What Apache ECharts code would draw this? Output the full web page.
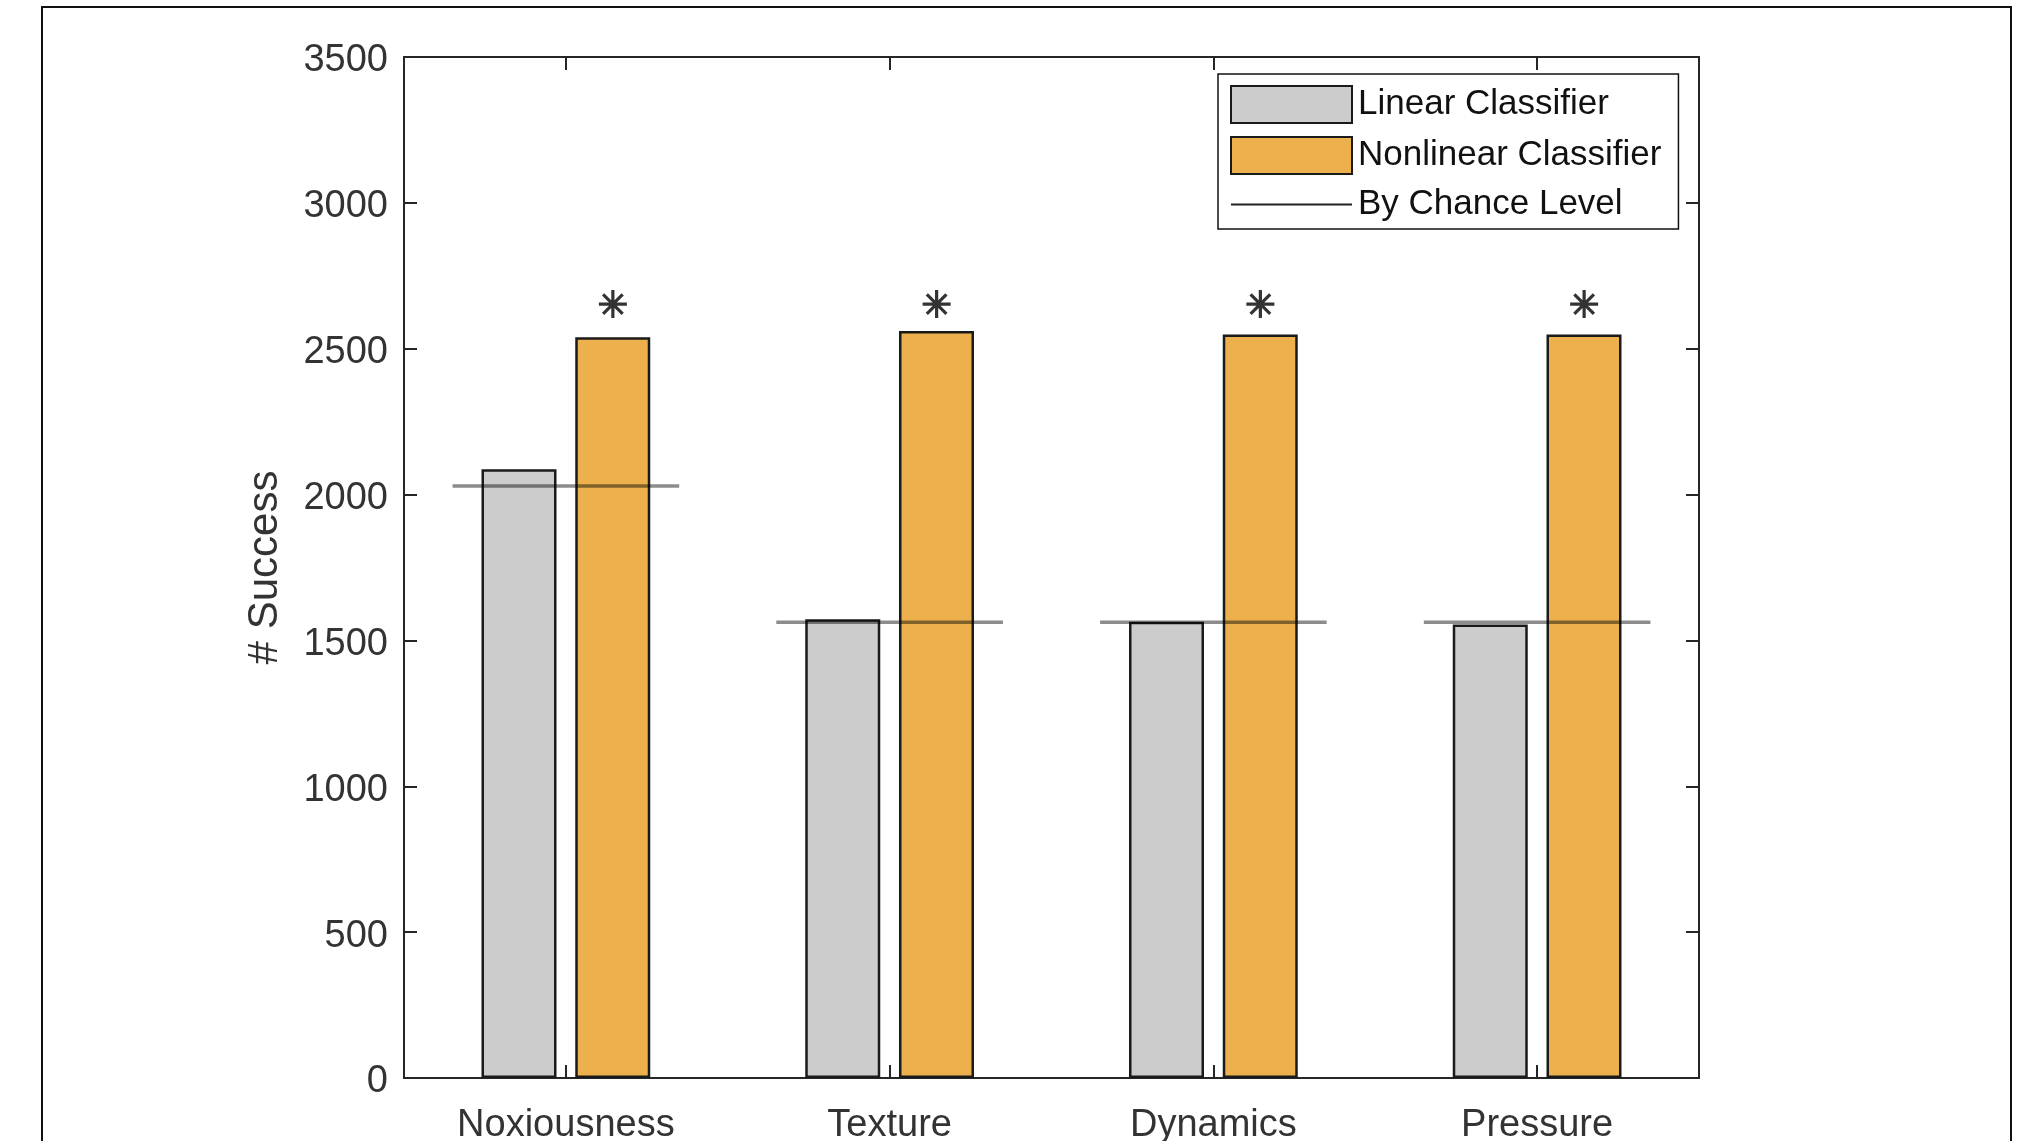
<!DOCTYPE html>
<html>
<head>
<meta charset="utf-8">
<script src="https://cdn.jsdelivr.net/npm/echarts@6/dist/echarts.min.js"></script>
<style>
  html, body { margin: 0; padding: 0; background: #fff; overflow: hidden; }
  #chart { width: 2026px; height: 1141px; }
</style>
</head>
<body>
<div id="chart"></div>
<script>
// Classification outcome per stimulus attribute
const categories = ['Noxiousness', 'Texture', 'Dynamics', 'Pressure'];
const linearSuccess = [2087, 1573, 1564, 1555];
const nonlinearSuccess = [2539, 2561, 2549, 2549];
const chanceLevel = [2029, 1562, 1562, 1562];
// significance markers placed above the nonlinear bars
const starLevel = [2653, 2653, 2653, 2653];
const yTicks = { min: 0, max: 3500, interval: 500 };

const FONT = '"Liberation Sans", Arial, Helvetica, sans-serif';
const AXIS_COLOR = '#262626';
const LABEL_COLOR = '#333333';

const chart = echarts.init(document.getElementById('chart'), null, { renderer: 'canvas' });

const axisCommon = {
  axisLine: { show: true, onZero: false, lineStyle: { color: AXIS_COLOR, width: 2 } },
  splitLine: { show: false }
};

const option = {
  backgroundColor: '#ffffff',
  animation: false,
  textStyle: { fontFamily: FONT },
  graphic: [{
    type: 'rect',
    shape: { x: 42, y: 7, width: 1969, height: 1200 },
    style: { fill: 'none', stroke: '#111', lineWidth: 2 },
    z: -10, silent: true
  }],
  grid: {
    left: 404, top: 57, right: 327, bottom: 63,
    containLabel: false,
    outerBoundsMode: 'none'
  },
  legend: {
    orient: 'vertical',
    left: 1218,
    top: 74,
    padding: [11, 17, 7, 12],
    itemGap: 12,
    itemWidth: 121,
    itemHeight: 37,
    backgroundColor: '#fff',
    borderColor: '#111',
    borderWidth: 1.5,
    borderRadius: 0,
    selectedMode: false,
    textStyle: { fontFamily: FONT, fontSize: 35, color: '#111', padding: [4, 0, 0, 1] },
    data: [
      { name: 'Linear Classifier', icon: 'rect' },
      { name: 'Nonlinear Classifier', icon: 'rect' },
      { name: 'By Chance Level', icon: 'path://M0,0H120V2H0Z', itemStyle: { color: '#222', borderWidth: 0 } }
    ]
  },
  xAxis: [{
    ...axisCommon,
    type: 'category',
    data: categories,
    position: 'bottom',
    boundaryGap: true,
    axisTick: { show: true, inside: true, alignWithLabel: true, length: 13, lineStyle: { color: AXIS_COLOR, width: 2 } },
    axisLabel: { fontFamily: FONT, fontSize: 38, color: LABEL_COLOR, margin: 29 }
  }, {
    ...axisCommon,
    type: 'category',
    data: categories,
    position: 'top',
    boundaryGap: true,
    axisTick: { show: true, inside: true, alignWithLabel: true, length: 13, lineStyle: { color: AXIS_COLOR, width: 2 } },
    axisLabel: { show: false }
  }],
  yAxis: [{
    ...axisCommon,
    type: 'value',
    min: yTicks.min, max: yTicks.max, interval: yTicks.interval,
    position: 'left',
    name: '# Success',
    nameLocation: 'middle',
    nameGap: 118,
    nameTextStyle: { fontFamily: FONT, fontSize: 42, color: LABEL_COLOR },
    axisTick: { show: true, inside: true, length: 13, lineStyle: { color: AXIS_COLOR, width: 2 } },
    axisLabel: {
      fontFamily: FONT, fontSize: 38, color: LABEL_COLOR, margin: 16,
      formatter: v => '{n|' + v + '}',
      rich: { n: { fontFamily: FONT, fontSize: 38, color: LABEL_COLOR, padding: [8, 0, 0, 0] } }
    }
  }, {
    ...axisCommon,
    type: 'value',
    min: yTicks.min, max: yTicks.max, interval: yTicks.interval,
    position: 'right',
    axisTick: { show: true, inside: true, length: 13, lineStyle: { color: AXIS_COLOR, width: 2 } },
    axisLabel: { show: false }
  }],
  series: [{
    name: 'Linear Classifier',
    type: 'bar',
    data: linearSuccess,
    barWidth: 75,
    barGap: '25%',
    itemStyle: { color: '#cccccc', borderColor: '#1a1a1a', borderWidth: 2.5 },
    z: 2
  }, {
    name: 'Nonlinear Classifier',
    type: 'bar',
    data: nonlinearSuccess,
    barWidth: 75,
    barGap: '25%',
    itemStyle: { color: '#ecb14d', borderColor: '#1a1a1a', borderWidth: 2.5 },
    z: 2
  }, {
    name: 'By Chance Level',
    type: 'custom',
    data: chanceLevel.map((v, i) => [i, v]),
    encode: { x: 0, y: 1 },
    z: 5,
    renderItem: function (params, api) {
      const c = api.coord([api.value(0), api.value(1)]);
      const half = api.size([1, 0])[0] * 0.35;
      return {
        type: 'line',
        shape: { x1: c[0] - half, y1: c[1], x2: c[0] + half, y2: c[1] },
        style: { stroke: 'rgba(0,0,0,0.45)', lineWidth: 3.5 }
      };
    }
  }, {
    name: 'significance',
    type: 'scatter',
    data: starLevel,
    symbol: 'path://M0,-10L0,10M-10,0L10,0M-7,-7L7,7M-7,7L7,-7',
    symbolSize: 28,
    symbolOffset: [47, 0],
    itemStyle: { color: 'rgba(0,0,0,0)', borderColor: '#000', borderWidth: 3.2 },
    z: 6
  }]
};

chart.setOption(option);
</script>
</body>
</html>
